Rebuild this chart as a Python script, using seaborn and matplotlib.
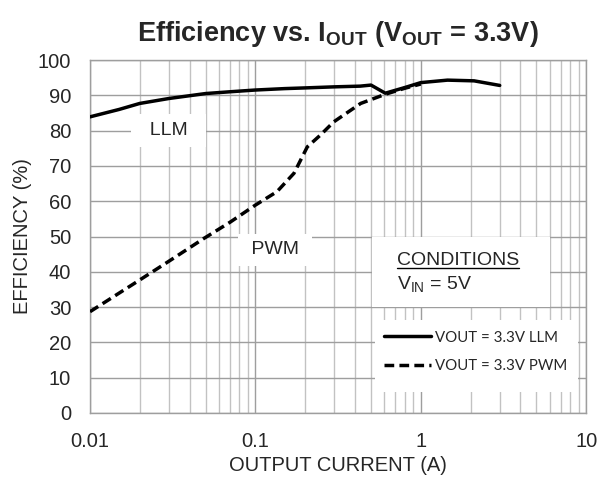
import matplotlib
matplotlib.use("Agg")
import matplotlib.pyplot as plt
from matplotlib.patches import Rectangle
from matplotlib.lines import Line2D
from matplotlib.ticker import LogLocator, FixedLocator, NullFormatter
import numpy as np
import pandas as pd
import seaborn as sns

# Output current (A) and efficiency (%) for each operating mode
llm_current = [0.01, 0.015, 0.02, 0.03, 0.05, 0.07, 0.1, 0.15, 0.2, 0.3, 0.43, 0.5, 0.61, 0.8, 1.0, 1.45, 2.1, 3.0]
llm_eff = [83.9, 86.0, 87.7, 89.1, 90.5, 91.0, 91.5, 91.9, 92.1, 92.4, 92.6, 92.9, 90.6, 92.2, 93.6, 94.3, 94.1, 92.8]

pwm_current = [0.01, 0.02, 0.03, 0.049, 0.07, 0.1, 0.135, 0.171, 0.206, 0.248, 0.298, 0.433, 0.61, 0.8, 1.0]
pwm_eff = [28.7, 37.7, 43.0, 49.5, 54.0, 58.9, 62.7, 67.9, 75.4, 78.8, 82.5, 87.7, 90.3, 92.0, 93.2]

series_labels = ["VOUT = 3.3V LLM", "VOUT = 3.3V PWM"]
y_ticks = list(range(0, 101, 10))
x_ticks = [0.01, 0.1, 1, 10]
x_tick_labels = ["0.01", "0.1", "1", "10"]

sns.set_theme(style="white")
plt.rcParams["font.family"] = ["Liberation Sans", "DejaVu Sans"]
plt.rcParams["mathtext.fontset"] = "custom"
plt.rcParams["mathtext.rm"] = "Liberation Sans"
plt.rcParams["mathtext.bf"] = "Liberation Sans:bold"

llm = pd.DataFrame({"current": llm_current, "eff": llm_eff})
pwm = pd.DataFrame({"current": pwm_current, "eff": pwm_eff})

fig = plt.figure(figsize=(6.0, 4.79), dpi=100)
ax = fig.add_axes([0.150, 0.1378, 0.827, 0.7369])

LW = 2.5
DASH = [2.8, 1.5]

sns.lineplot(data=llm, x="current", y="eff", ax=ax, color="black", lw=LW,
             legend=False, zorder=4)
sns.lineplot(data=pwm, x="current", y="eff", ax=ax, color="black", lw=LW,
             legend=False, zorder=3)
ax.lines[1].set_dashes(DASH)

ax.set_xscale("log")
ax.set_xlim(0.01, 10)
ax.set_ylim(0, 100)
ax.xaxis.set_major_locator(FixedLocator(x_ticks))
ax.set_xticklabels(x_tick_labels)
ax.xaxis.set_minor_locator(LogLocator(base=10, subs=np.arange(2, 10)))
ax.xaxis.set_minor_formatter(NullFormatter())
ax.set_yticks(y_ticks)

ax.grid(True, which="major", axis="both", color="#9e9e9e", lw=1.0, zorder=0)
ax.grid(True, which="minor", axis="x", color="#c2c2c2", lw=1.0, zorder=0)
ax.set_axisbelow(True)

for s in ax.spines.values():
    s.set_color("#9e9e9e")
    s.set_linewidth(1.0)

ax.tick_params(axis="x", which="major", direction="out", length=5, width=1,
               color="#9e9e9e", labelsize=14.5, pad=9)
ax.tick_params(axis="y", which="major", direction="out", length=5, width=1,
               color="#9e9e9e", labelsize=14.5, pad=8.5)
ax.tick_params(axis="x", which="minor", length=0)

ax.set_xlabel("OUTPUT CURRENT (A)", fontsize=14.5, labelpad=3.5)
ax.set_ylabel("EFFICIENCY (%)", fontsize=14.5, labelpad=4)

ax.set_title(r"Efficiency vs. I$_{\mathbf{OUT}}$ (V$_{\mathbf{OUT}}$ = 3.3V)",
             fontsize=19.5, fontweight="bold", pad=14)

# curve labels on white boxes
box = dict(boxstyle="square,pad=0.4", fc="white", ec="none")
ax.text(0.0299, 80.1, "  LLM  ", fontsize=14, ha="center", va="center", bbox=box, zorder=2)
ax.text(0.1315, 46.2, " PWM ", fontsize=14, ha="center", va="center", bbox=box, zorder=2)

# test conditions panel
ax.add_patch(Rectangle((0.5685, 0.300), 0.3585, 0.1986, transform=ax.transAxes,
                       fc="white", ec="none", zorder=1.5))
cond = ax.text(0.6186, 0.418, "CONDITIONS", transform=ax.transAxes, fontsize=14,
               ha="left", va="baseline", zorder=2)
ax.text(0.6186, 0.350, r"V$_{\mathrm{IN}}$ = 5V", transform=ax.transAxes, fontsize=14,
        ha="left", va="baseline", zorder=2)
fig.canvas.draw()
bb = cond.get_window_extent().transformed(ax.transAxes.inverted())
ax.add_line(Line2D([bb.x0, bb.x1], [0.418 - 0.006, 0.418 - 0.006], transform=ax.transAxes,
                   color="black", lw=1.0, zorder=2))

# legend panel
ax.add_patch(Rectangle((0.5746, 0.0595), 0.4094, 0.204, transform=ax.transAxes,
                       fc="white", ec="none", zorder=1.5))
handles = [Line2D([], [], color="black", lw=LW),
           Line2D([], [], color="black", lw=LW, dashes=DASH)]
leg = ax.legend(handles, series_labels, loc="center left", bbox_to_anchor=(0.5927, 0.1737),
                frameon=False, handlelength=3.1, handletextpad=0.3, labelspacing=0.95,
                prop={"family": "Lato", "size": 10.8}, borderpad=0, borderaxespad=0)
leg.set_zorder(5)

fig.savefig("out.png", dpi=100, facecolor="white")
